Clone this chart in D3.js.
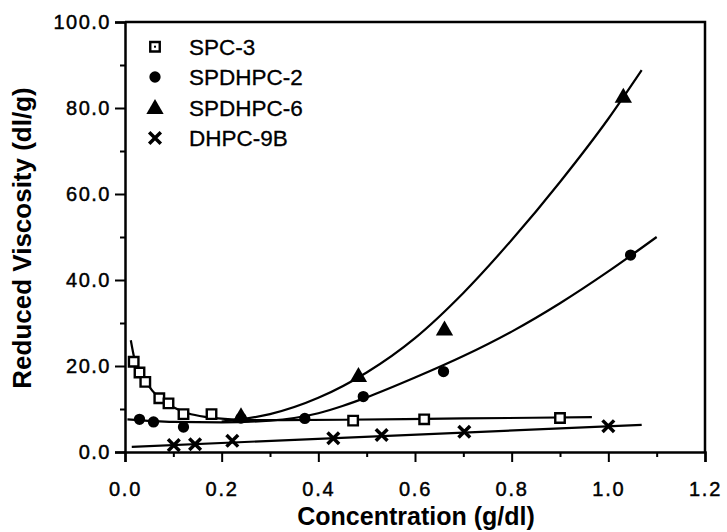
<!DOCTYPE html>
<html><head><meta charset="utf-8">
<script src="https://cdn.jsdelivr.net/npm/d3@7"></script>
<style>
html,body{margin:0;padding:0;background:#fff;}
svg{display:block;}
text{font-family:"Liberation Sans",Arial,Helvetica,sans-serif;fill:#000;}
</style></head>
<body>
<svg id="chart" width="727" height="532"></svg>
<script>
// ---- data ----
const xTicks = [0.0, 0.2, 0.4, 0.6, 0.8, 1.0, 1.2];
const xMinor = [0.1, 0.3, 0.5, 0.7, 0.9, 1.1];
const yTicks = [0, 20, 40, 60, 80, 100];
const yMinor = [10, 30, 50, 70, 90];
const seriesNames = ["SPC-3", "SPDHPC-2", "SPDHPC-6", "DHPC-9B"];

const spc3X = [0.018, 0.03, 0.042, 0.071, 0.09, 0.121, 0.179, 0.472, 0.619, 0.9];
const spc3Y = [21.0, 18.5, 16.3, 12.5, 11.3, 8.8, 8.8, 7.3, 7.6, 7.9];
const spdhpc2X = [0.03, 0.059, 0.121, 0.24, 0.372, 0.493, 0.659, 1.046];
const spdhpc2Y = [7.6, 7.0, 5.8, 7.9, 7.8, 12.9, 18.7, 45.8];
const spdhpc6X = [0.24, 0.483, 0.661, 1.031];
const spdhpc6Y = [8.3, 17.7, 28.5, 82.6];
const dhpc9bX = [0.101, 0.145, 0.222, 0.431, 0.531, 0.702, 1.0];
const dhpc9bY = [1.6, 1.8, 2.6, 3.2, 3.95, 4.7, 6.0];

// fitted curves as drawn in the reference
const spc3FitX = [0.012, 0.02, 0.03, 0.045, 0.07, 0.1, 0.13, 0.17, 0.22, 0.3, 0.45, 0.7, 0.966];
const spc3FitY = [26.0, 21.5, 19.0, 16.0, 12.6, 10.4, 9.0, 8.1, 7.6, 7.4, 7.5, 7.8, 8.1];
const spdhpc2FitX = [0.005, 0.1, 0.2, 0.3, 0.35, 0.4, 0.45, 0.5, 0.6, 0.7, 0.8, 0.9, 1.0, 1.1];
const spdhpc2FitY = [7.6, 7.0, 6.9, 7.3, 7.9, 9.0, 10.7, 12.7, 17.3, 22.3, 28.0, 34.6, 42.0, 50.0];
const spdhpc6FitX = [0.2, 0.3, 0.4, 0.5, 0.6, 0.7, 0.8, 0.9, 1.0, 1.069];
const spdhpc6FitY = [7.1, 8.8, 12.6, 18.5, 26.5, 37.0, 49.3, 62.8, 77.5, 88.8];
const dhpc9bFitX = [0.014, 1.069];
const dhpc9bFitY = [1.2, 6.3];

// ---- layout ----
const svg = d3.select("#chart");
const x = d3.scaleLinear().domain([0, 1.2]).range([125, 705]);
const y = d3.scaleLinear().domain([0, 100]).range([452, 22]);

const g = svg.append("g");

// frame top and right
g.append("path")
  .attr("d", `M${x(0)},${y(100)} H${x(1.2)} V${y(0)}`)
  .attr("fill", "none").attr("stroke", "#000").attr("stroke-width", 2.5);

// x axis
const xAxis = g.append("g").attr("transform", `translate(0,${y(0)})`)
  .call(d3.axisBottom(x).tickValues(xTicks).tickFormat(d3.format(".1f")).tickSize(10).tickPadding(20));
xAxis.select(".domain").attr("stroke-width", 2.5);
xAxis.selectAll(".tick line").attr("stroke-width", 2);
xAxis.selectAll("text").style("font-size", "20px").style("letter-spacing", "1.8px")
  .attr("font-family", null).attr("stroke", "#000").attr("stroke-width", 0.45);
g.append("g").attr("transform", `translate(0,${y(0)})`)
  .call(d3.axisBottom(x).tickValues(xMinor).tickFormat("").tickSize(5))
  .call(s => { s.select(".domain").remove(); s.selectAll("line").attr("stroke-width", 2); });

// y axis
const yAxis = g.append("g").attr("transform", `translate(${x(0)},0)`)
  .call(d3.axisLeft(y).tickValues(yTicks).tickFormat(d3.format(".1f")).tickSize(10).tickPadding(4));
yAxis.select(".domain").attr("stroke-width", 2.5);
yAxis.selectAll(".tick line").attr("stroke-width", 2);
yAxis.selectAll("text").style("font-size", "20px").style("letter-spacing", "1.5px")
  .attr("font-family", null).attr("stroke", "#000").attr("stroke-width", 0.45);
g.append("g").attr("transform", `translate(${x(0)},0)`)
  .call(d3.axisLeft(y).tickValues(yMinor).tickFormat("").tickSize(5))
  .call(s => { s.select(".domain").remove(); s.selectAll("line").attr("stroke-width", 2); });
svg.selectAll(".domain").attr("stroke", "#000");
svg.selectAll(".tick line").attr("stroke", "#000");

// axis titles
svg.append("text").attr("x", 416).attr("y", 525).attr("text-anchor", "middle")
  .style("font-size", "25px").style("font-weight", "bold").text("Concentration (g/dl)");
svg.append("text").attr("transform", "translate(31,238) rotate(-90)").attr("text-anchor", "middle")
  .style("font-size", "26px").style("font-weight", "bold").text("Reduced Viscosity (dl/g)");

// fit lines
const line = d3.line().x(d => x(d[0])).y(d => y(d[1])).curve(d3.curveMonotoneX);
const fits = [
  [spc3FitX, spc3FitY], [spdhpc2FitX, spdhpc2FitY], [spdhpc6FitX, spdhpc6FitY], [dhpc9bFitX, dhpc9bFitY]
];
fits.forEach(([xs, ys]) => {
  g.append("path").datum(xs.map((v, i) => [v, ys[i]]))
    .attr("d", line).attr("fill", "none").attr("stroke", "#000").attr("stroke-width", 2.2);
});

// markers
const symSquare = d3.symbol().type(d3.symbolSquare).size(90);
const symCircle = d3.symbol().type(d3.symbolCircle).size(100);
const symTri = d3.symbol().type(d3.symbolTriangle).size(130);
const symX = d3.symbol().type(d3.symbolX).size(90);

function drawSeries(xs, ys, kind) {
  const pts = xs.map((v, i) => [v, ys[i]]);
  const sel = g.append("g").selectAll("path").data(pts).join("path")
    .attr("transform", d => `translate(${x(d[0])},${y(d[1])})`);
  styleMarker(sel, kind);
}
function styleMarker(sel, kind) {
  if (kind === 0) sel.attr("d", symSquare()).attr("fill", "#fff").attr("stroke", "#000").attr("stroke-width", 2.4);
  if (kind === 1) sel.attr("d", symCircle()).attr("fill", "#000");
  if (kind === 2) sel.attr("d", symTri()).attr("fill", "#000").attr("transform", function() {
    return d3.select(this).attr("transform") + " translate(0,1)"; });
  if (kind === 3) sel.attr("d", symX()).attr("fill", "none").attr("stroke", "#000").attr("stroke-width", 3.5);
}
drawSeries(spdhpc2X, spdhpc2Y, 1);
drawSeries(spdhpc6X, spdhpc6Y, 2);
drawSeries(spc3X, spc3Y, 0);
drawSeries(dhpc9bX, dhpc9bY, 3);

// legend
const legendY = [46.7, 77, 108, 138];
seriesNames.forEach((name, i) => {
  const m = svg.append("path").attr("transform", `translate(155,${legendY[i]})`);
  styleMarker(m, i);
  if (i === 0) svg.append("rect").attr("x", 154).attr("y", legendY[i] - 1).attr("width", 2).attr("height", 2).attr("fill", "#000");
  svg.append("text").attr("x", 189).attr("y", legendY[i] + 8)
    .style("font-size", "22.5px").attr("stroke", "#000").attr("stroke-width", 0.3).text(name);
});
</script>
</body></html>
